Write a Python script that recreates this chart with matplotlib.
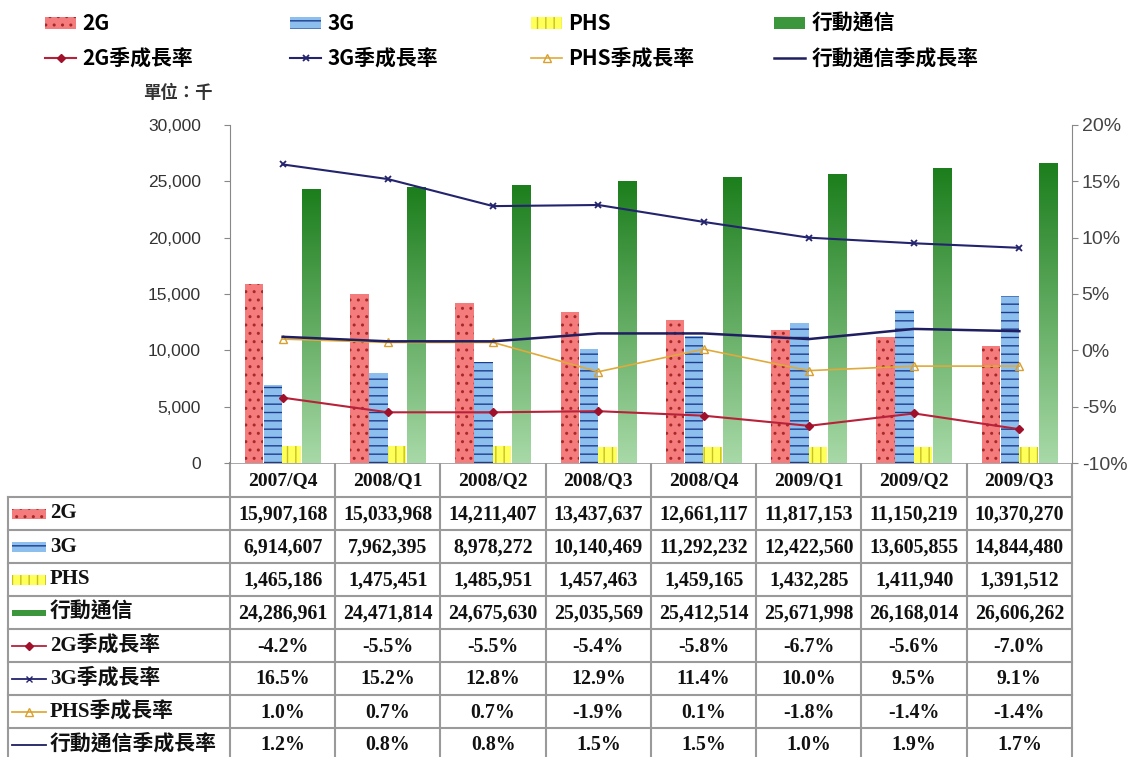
import numpy as np
import matplotlib.pyplot as plt
from matplotlib.patches import Rectangle
from matplotlib.lines import Line2D
from matplotlib.ticker import FuncFormatter
from matplotlib.colors import LinearSegmentedColormap

# Data
quarters = ['2007/Q4', '2008/Q1', '2008/Q2', '2008/Q3', '2008/Q4', '2009/Q1', '2009/Q2', '2009/Q3']
subs_2g = [15907168, 15033968, 14211407, 13437637, 12661117, 11817153, 11150219, 10370270]
subs_3g = [6914607, 7962395, 8978272, 10140469, 11292232, 12422560, 13605855, 14844480]
subs_phs = [1465186, 1475451, 1485951, 1457463, 1459165, 1432285, 1411940, 1391512]
subs_all = [24286961, 24471814, 24675630, 25035569, 25412514, 25671998, 26168014, 26606262]
growth_2g = [-4.2, -5.5, -5.5, -5.4, -5.8, -6.7, -5.6, -7.0]
growth_3g = [16.5, 15.2, 12.8, 12.9, 11.4, 10.0, 9.5, 9.1]
growth_phs = [1.0, 0.7, 0.7, -1.9, 0.1, -1.8, -1.4, -1.4]
growth_all = [1.2, 0.8, 0.8, 1.5, 1.5, 1.0, 1.9, 1.7]

names_bar = ['2G', '3G', 'PHS', '行動通信']
names_line = ['2G季成長率', '3G季成長率', 'PHS季成長率', '行動通信季成長率']

W, H = 1138, 757
fig = plt.figure(figsize=(W / 100, H / 100), dpi=100)

cjk = ['Noto Sans CJK TC', 'DejaVu Sans']
serif_cjk = ['Liberation Serif', 'Noto Sans CJK TC']

# chart area in pixels
x0, x1, ytop, ybot = 230, 1072, 125, 463
ax = fig.add_axes([x0 / W, 1 - ybot / H, (x1 - x0) / W, (ybot - ytop) / H])
ax2 = ax.twinx()

x = np.arange(len(quarters))
bw = 0.175
c2g, c3g, cphs, call = '#F47C7C', '#8DBFEE', '#FFFF5A', '#3C963C'
b1 = ax.bar(x - 0.27, np.array(subs_2g) / 1000, bw, color=c2g, edgecolor='#A82828', hatch='..', lw=0)
b2 = ax.bar(x - 0.09, np.array(subs_3g) / 1000, bw, color=c3g, edgecolor='#1E3C8C', hatch='--', lw=0)
b3 = ax.bar(x + 0.085, np.array(subs_phs) / 1000, bw, color=cphs, edgecolor='#C8C020', hatch='||', lw=0)
b4 = ax.bar(x + 0.27, np.array(subs_all) / 1000, bw, color=call, lw=0)

# green gradient on total bars
grad = np.linspace(1, 0, 256).reshape(-1, 1)
gcmap = LinearSegmentedColormap.from_list('g', ['#A8D9A8', '#1C7E1C'])
for r in b4:
    im = ax.imshow(grad, cmap=gcmap, aspect='auto', origin='upper',
                   extent=[r.get_x(), r.get_x() + r.get_width(), 0, r.get_height()], zorder=2)
    im.set_clip_path(r)

ax.set_xlim(-0.5, len(quarters) - 0.5)
ax.set_ylim(0, 30000)
ax.set_yticks(np.arange(0, 30001, 5000))
ax.yaxis.set_major_formatter(FuncFormatter(lambda v, p: f'{int(v):,}'))
ax.set_xticks([])

l1, = ax2.plot(x, growth_2g, color='#B8213A', lw=1.5, marker='D', ms=4.5, mfc='#A0102A', mec='#A0102A')
l2, = ax2.plot(x, growth_3g, color='#23236E', lw=1.5, marker='x', ms=5, mew=1.3)
l3, = ax2.plot(x, growth_phs, color='#E0AA3A', lw=1.2, marker='^', ms=6, mfc='none', mec='#D8A030')
l4, = ax2.plot(x, growth_all, color='#1E1E60', lw=1.8)
ax2.set_ylim(-10, 20)
ax2.set_yticks(np.arange(-10, 21, 5))
ax2.yaxis.set_major_formatter(FuncFormatter(lambda v, p: f'{int(v)}%'))

for a in (ax, ax2):
    for s in ('top', 'bottom'):
        a.spines[s].set_visible(False)
    a.spines['left'].set_color('#888888')
    a.spines['right'].set_color('#888888')
ax.spines['right'].set_visible(False)
ax2.spines['left'].set_visible(False)
ax.tick_params(axis='y', length=4, color='#888888', labelsize=12.5, labelcolor='#333333', pad=17)
ax2.tick_params(axis='y', length=4, color='#888888', labelsize=14, labelcolor='#444444', pad=3)
for t in ax.get_yticklabels() + ax2.get_yticklabels():
    t.set_family('Liberation Sans')

fig.text(178 / W, 1 - 93 / H, '單位：千', ha='center', va='center', fontsize=12.5,
         fontweight='bold', family=cjk, color='#333333')

# legend: four columns of two rows
lprop = dict(family=cjk, weight='bold', size=15)
legend_x = [45, 290, 531, 774]
pairs = [(b1, l1), (b2, l2), (b3, l3), (b4, l4)]
for lx, (bh, lh), nb, nl in zip(legend_x, pairs, names_bar, names_line):
    fig.legend([bh, lh], [nb, nl], loc='upper left', bbox_to_anchor=(lx / W, 1 - 13 / H),
               frameon=False, prop=lprop, handlelength=1.5, handleheight=0.5,
               handletextpad=0.3, labelspacing=0.65, borderpad=0, borderaxespad=0)

# data table below the chart
tab = fig.add_axes([0, 0, 1, 1], zorder=-1)
tab.set_xlim(0, W)
tab.set_ylim(H, 0)
tab.axis('off')
cw = (x1 - x0) / len(quarters)
col_x = [x0 + cw * i for i in range(len(quarters) + 1)]
head_top, head_bot, rh = 463, 497, 33
row_labels = names_bar + names_line
values = [subs_2g, subs_3g, subs_phs, subs_all, growth_2g, growth_3g, growth_phs, growth_all]
gc = '#9A9A9A'
tab.plot([x0, x1], [head_top, head_top], color=gc, lw=1.2)
for i in range(len(row_labels) + 1):
    yy = head_bot + rh * i
    tab.plot([8, x1], [yy, yy], color=gc, lw=1.5)
for cx in col_x:
    tab.plot([cx, cx], [head_top, H], color=gc, lw=1.5)
tab.plot([8, 8], [head_bot, H], color=gc, lw=1.5)

tfont = dict(family=serif_cjk, weight='bold', fontsize=14.3, color='#111111')
for j, q in enumerate(quarters):
    tab.text(col_x[j] + cw / 2, (head_top + head_bot) / 2 + 1, q, ha='center', va='center',
             family=serif_cjk, weight='bold', fontsize=14, color='#111111')
for i, (lab, vals) in enumerate(zip(row_labels, values)):
    yc = head_bot + rh * i + rh / 2
    for j, v in enumerate(vals):
        s = f'{v:,}' if i < 4 else f'{v:.1f}%'
        tab.text(col_x[j] + cw / 2, yc + 1, s, ha='center', va='center', **tfont)
    tab.text(50, yc, lab, ha='left', va='center', family=serif_cjk, weight='bold',
             fontsize=15, color='#111111')

# row label icons
icons = [(c2g, '#A82828', '..'), (c3g, '#1E3C8C', '--'), (cphs, '#C8C020', '||'), (call, call, None)]
for i, (fc, ec, ht) in enumerate(icons):
    yc = head_bot + rh * i + rh / 2
    hh = 10 if i < 3 else 6
    tab.add_patch(Rectangle((12, yc - hh / 2), 34, hh, facecolor=fc, edgecolor=ec, hatch=ht, lw=0))
for i, ln in enumerate([l1, l2, l3, l4]):
    yc = head_bot + rh * (i + 4) + rh / 2
    tab.add_line(Line2D([12, 46], [yc, yc], color=ln.get_color(), lw=1.3))
    if ln.get_marker() not in (None, 'None', ''):
        tab.add_line(Line2D([29], [yc], marker=ln.get_marker(), ms=ln.get_markersize(),
                            mfc=ln.get_markerfacecolor(), mec=ln.get_markeredgecolor(), ls='none'))

fig.savefig('out.png', dpi=100)
